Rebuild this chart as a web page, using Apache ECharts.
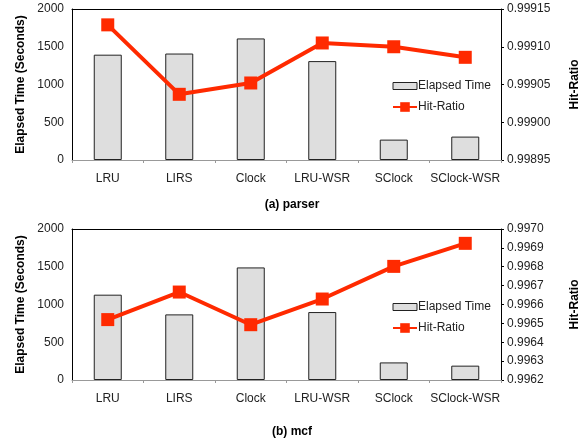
<!DOCTYPE html>
<html><head><meta charset="utf-8">
<script src="https://cdn.jsdelivr.net/npm/echarts@6/dist/echarts.min.js"></script>
<style>html,body{margin:0;padding:0;background:#fff}#c{width:584px;height:439px}</style>
</head><body><div id="c"></div>
<script>
const categories = ['LRU','LIRS','Clock','LRU-WSR','SClock','SClock-WSR'];
const parserTime = [1395, 1410, 1610, 1310, 270, 310];
const parserHit = [0.999129, 0.999037, 0.999052, 0.999105, 0.999100, 0.999086];
const mcfTime = [1130, 869, 1491, 900, 233, 190];
const mcfHit = [0.996520, 0.996666, 0.996493, 0.996629, 0.996802, 0.996924];
const timeTicks = [0, 500, 1000, 1500, 2000];
const parserHitRange = [0.99895, 0.99915, 0.00005];
const mcfHitRange = [0.9962, 0.9970, 0.0001];

const FONT = 'Liberation Sans';
const RED = '#ff2a00';
const grids = [
  {left: 72, right: 83, top: 9, height: 151, outerBoundsMode:'none', containLabel:false},
  {left: 72, right: 83, top: 229, height: 151, outerBoundsMode:'none', containLabel:false}
];
function xAxes(gi){
  return [
    {type:'category', gridIndex:gi, data:categories, position:'bottom',
     axisLine:{lineStyle:{color:'#999', width:1}},
     axisTick:{show:true, alignWithLabel:false, length:3, lineStyle:{color:'#999'}},
     axisLabel:{color:'#222', fontFamily:FONT, fontSize:12, margin:13, interval:0}},
    {type:'category', gridIndex:gi, data:categories, position:'top',
     axisLine:{lineStyle:{color:'#000', width:1}}, axisTick:{show:false}, axisLabel:{show:false}}
  ];
}
function yAxes(gi, range, dec){
  return [
    {type:'value', gridIndex:gi, min:timeTicks[0], max:timeTicks[timeTicks.length-1], interval:timeTicks[1]-timeTicks[0],
     name:'Elapsed Time (Seconds)', nameLocation:'middle', nameGap:45, nameRotate:90,
     nameTextStyle:{fontFamily:FONT, fontWeight:'bold', fontSize:12, color:'#000'},
     axisLine:{show:true, lineStyle:{color:'#000'}}, axisTick:{show:false},
     splitLine:{show:false},
     axisLabel:{color:'#222', fontFamily:FONT, fontSize:12, margin:8, formatter:v=>String(v)}},
    {type:'value', gridIndex:gi, min:range[0], max:range[1], interval:range[2], position:'right',
     name:'Hit-Ratio', nameLocation:'middle', nameGap:68, nameRotate:90,
     nameTextStyle:{fontFamily:FONT, fontWeight:'bold', fontSize:12, color:'#000'},
     axisLine:{show:true, lineStyle:{color:'#000'}}, axisTick:{show:true, length:3, lineStyle:{color:'#000'}},
     splitLine:{show:false},
     axisLabel:{color:'#222', fontFamily:FONT, fontSize:12, margin:6, formatter:v=>v.toFixed(dec)}}
  ];
}
function seriesFor(gi, time, hit){
  return [
    {name:'Elapsed Time', type:'bar', data:time, barWidth:28,
     itemStyle:{color:'#dedede', borderColor:'#222', borderWidth:1}},
    {name:'Hit-Ratio', type:'line', data:hit,
     symbol:'rect', symbolSize:13, lineStyle:{color:RED, width:4}, itemStyle:{color:RED}}
  ];
}
function legend(top){
  return {orient:'vertical', left:387, top:top, itemGap:9, itemWidth:24, itemHeight:12,
    textStyle:{fontFamily:FONT, fontSize:12, color:'#222', padding:[0,0,0,-4]},
    data:[{name:'Elapsed Time', icon:'path://M0,0H24V7H0Z', itemStyle:{color:'#dedede', borderColor:'#222', borderWidth:1}},
          {name:'Hit-Ratio'}]};
}
const chart = echarts.init(document.getElementById('c'));
chart.setOption({
  animation:false,
  grid:grids,
  xAxis:[...xAxes(0), ...xAxes(1)].map((a,i)=>{a.gridIndex = i<2?0:1; return a;}),
  yAxis:[...yAxes(0, parserHitRange, 5), ...yAxes(1, mcfHitRange, 4)],
  legend:[legend(75), legend(296)],
  title:[
    {text:'(a) parser', left:'center', top:199, textStyle:{fontFamily:FONT, fontWeight:'bold', fontSize:12, color:'#000'}, padding:0},
    {text:'(b) mcf', left:'center', top:426, textStyle:{fontFamily:FONT, fontWeight:'bold', fontSize:12, color:'#000'}, padding:0}
  ],
  series:[...seriesFor(0, parserTime, parserHit), ...seriesFor(1, mcfTime, mcfHit)].map((s,i)=>{
    const gi = i<2?0:1; s.xAxisIndex = gi*2; s.yAxisIndex = gi*2 + (s.type==='line'?1:0); return s;})
});
</script></body></html>
